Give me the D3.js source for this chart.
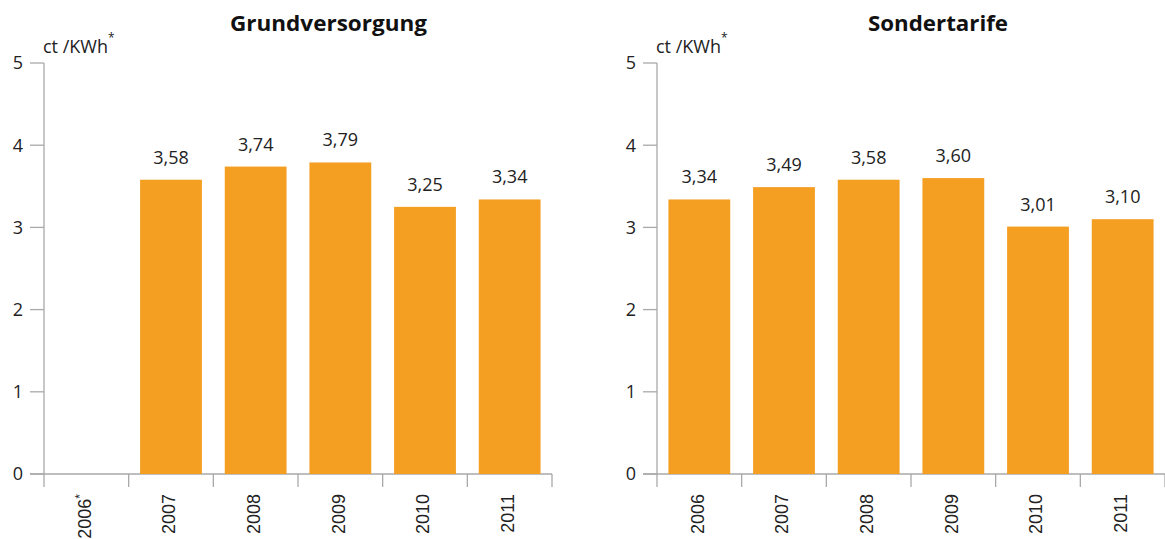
<!DOCTYPE html>
<html>
<head>
<meta charset="utf-8">
<script src="https://cdn.jsdelivr.net/npm/d3@7"></script>
<style>
  html, body { margin: 0; padding: 0; background: #fff; }
  svg { display: block; }
  .title { font-family: "Open Sans", "Noto Sans", sans-serif; font-weight: 700; font-size: 21px; fill: #111; }
  .unit, .val, .ytick { font-family: "Open Sans", "Noto Sans", sans-serif; font-size: 18px; fill: #222; }
  .xtick { font-family: "Liberation Sans", Arial, sans-serif; font-size: 18px; fill: #222; }
</style>
</head>
<body>
<svg id="chart" width="1165" height="539"></svg>
<script>
// Electricity price components, ct/KWh
const years = ["2006", "2007", "2008", "2009", "2010", "2011"];
const grundversorgung = [null, 3.58, 3.74, 3.79, 3.25, 3.34];
const sondertarife = [3.34, 3.49, 3.58, 3.60, 3.01, 3.10];
const yTicks = [0, 1, 2, 3, 4, 5];
const panelTitles = ["Grundversorgung", "Sondertarife"];
const unitLabel = "ct /KWh";

const svg = d3.select("#chart");
const barColor = "#f49e22";
const axisColor = "#a9a9a9";

const fmt = v => v.toFixed(2).replace(".", ",");

const y = d3.scaleLinear().domain([0, 5]).range([474, 63]);

function panel(x0, title, titleX, titleW, values, starYear) {
  const g = svg.append("g");
  const x = d3.scaleBand().domain(years).range([x0, x0 + 508]).paddingInner(0.27).paddingOuter(0.135);

  // title
  g.append("text").attr("class", "title")
    .attr("x", titleX).attr("y", 31).attr("text-anchor", "middle")
    .attr("textLength", titleW).attr("lengthAdjust", "spacingAndGlyphs").text(title);

  // unit label with superscript star
  const u = g.append("text").attr("class", "unit").attr("x", x0 - 1).attr("y", 53);
  u.append("tspan").text(unitLabel);
  u.append("tspan").attr("dy", -11).attr("font-size", 12).text("*");

  // y axis
  g.append("line").attr("x1", x0).attr("x2", x0).attr("y1", y(5)).attr("y2", y(0))
    .attr("stroke", axisColor).attr("stroke-width", 1.3);
  yTicks.forEach(t => {
    g.append("line").attr("x1", x0 - 14).attr("x2", x0).attr("y1", y(t)).attr("y2", y(t))
      .attr("stroke", axisColor).attr("stroke-width", 1.3);
    g.append("text").attr("class", "ytick").attr("x", x0 - 21).attr("y", y(t))
      .attr("dy", "0.36em").attr("text-anchor", "end").text(t);
  });

  // x axis
  g.append("line").attr("x1", x0 - 14).attr("x2", x0 + 508).attr("y1", y(0)).attr("y2", y(0))
    .attr("stroke", axisColor).attr("stroke-width", 1.3);
  const step = x.step();
  d3.range(years.length + 1).forEach(i => {
    const bx = x0 + i * step;
    g.append("line").attr("x1", bx).attr("x2", bx).attr("y1", y(0)).attr("y2", y(0) + 13)
      .attr("stroke", axisColor).attr("stroke-width", 1.3);
  });

  // year labels, rotated
  years.forEach(yr => {
    const cx = x(yr) + x.bandwidth() / 2;
    const t = g.append("text").attr("class", "xtick")
      .attr("transform", `translate(${cx - 2},${y(0) + 20}) rotate(-90)`)
      .attr("text-anchor", "end").attr("dy", "0.36em");
    t.append("tspan").text(yr);
    if (yr === starYear) t.append("tspan").attr("dy", -7).attr("font-size", 12).text("*");
  });

  // bars
  const data = years.map((yr, i) => ({ yr, v: values[i] })).filter(d => d.v != null);
  g.selectAll("rect.bar").data(data).enter().append("rect")
    .attr("x", d => x(d.yr)).attr("width", x.bandwidth())
    .attr("y", d => y(d.v)).attr("height", d => y(0) - y(d.v))
    .attr("fill", barColor);

  // value labels
  g.selectAll("text.val").data(data).enter().append("text").attr("class", "val")
    .attr("x", d => x(d.yr) + x.bandwidth() / 2).attr("y", d => y(d.v) - 16)
    .attr("text-anchor", "middle").text(d => fmt(d.v));
}

panel(44, panelTitles[0], 328.5, 197, grundversorgung, "2006");
panel(657, panelTitles[1], 938, 140, sondertarife, null);
</script>
</body>
</html>
